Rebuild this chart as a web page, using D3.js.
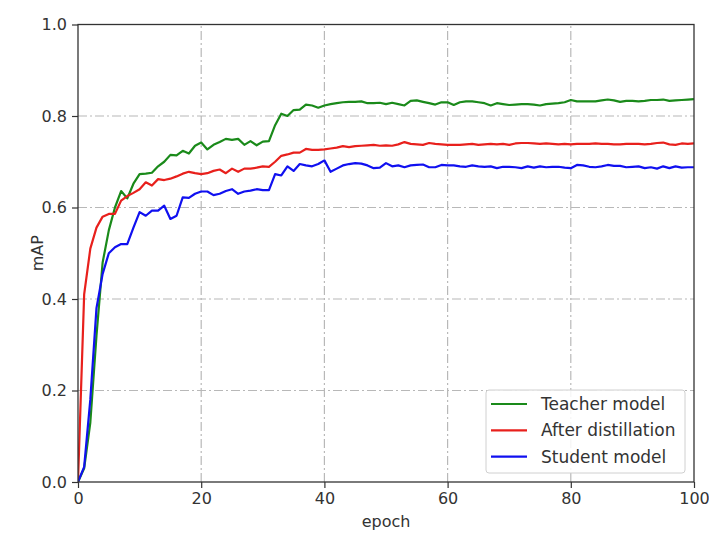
<!DOCTYPE html>
<html>
<head>
<meta charset="utf-8">
<script src="https://cdn.jsdelivr.net/npm/d3@7"></script>
<style>
  body { margin: 0; background: #fff; }
  svg { display: block; font-family: "DejaVu Sans", sans-serif; }
</style>
</head>
<body>
<svg id="chart"></svg>
<script>
// values, one per epoch (0..100)
const epochs = d3.range(0, 101);

const teacher = [
  0.0, 0.03, 0.13, 0.32, 0.48, 0.55, 0.60, 0.636, 0.62, 0.652,
  0.673, 0.674, 0.676, 0.69, 0.70, 0.715, 0.714, 0.724, 0.718, 0.735,
  0.742, 0.727, 0.737, 0.743, 0.75, 0.748, 0.75, 0.737, 0.745, 0.736,
  0.744, 0.745, 0.78, 0.805, 0.80, 0.813, 0.814, 0.825, 0.823, 0.818,
  0.823, 0.826, 0.828, 0.83, 0.831, 0.831, 0.832, 0.828, 0.828, 0.829,
  0.826, 0.829, 0.826, 0.823, 0.833, 0.834, 0.831, 0.828, 0.825, 0.83,
  0.83, 0.824, 0.83, 0.832, 0.832, 0.83, 0.828, 0.823, 0.828, 0.826,
  0.824, 0.825, 0.826, 0.826, 0.825, 0.823, 0.826, 0.827, 0.828, 0.83,
  0.835, 0.832, 0.832, 0.832, 0.832, 0.834, 0.836, 0.834, 0.831, 0.833,
  0.833, 0.832, 0.833, 0.835, 0.835, 0.836, 0.833, 0.834, 0.835, 0.836,
  0.837
];

const distilled = [
  0.0, 0.41, 0.51, 0.556, 0.58, 0.586, 0.586, 0.615, 0.625, 0.632,
  0.64, 0.655, 0.648, 0.662, 0.66, 0.663, 0.668, 0.674, 0.678, 0.675,
  0.673, 0.675, 0.68, 0.683, 0.675, 0.685, 0.678, 0.685, 0.685, 0.687,
  0.69, 0.689, 0.70, 0.713, 0.716, 0.72, 0.72, 0.728, 0.726, 0.726,
  0.727, 0.729, 0.731, 0.734, 0.732, 0.734, 0.735, 0.736, 0.737, 0.735,
  0.736, 0.735, 0.738, 0.743, 0.739, 0.738, 0.737, 0.741, 0.739, 0.738,
  0.737, 0.737, 0.737, 0.738, 0.739, 0.737, 0.738, 0.739, 0.738, 0.739,
  0.737, 0.74, 0.741, 0.741, 0.74, 0.739, 0.74, 0.739, 0.738, 0.739,
  0.738, 0.739, 0.739, 0.739, 0.74, 0.739, 0.739, 0.738, 0.738, 0.739,
  0.739, 0.739, 0.738, 0.739, 0.741, 0.742, 0.738, 0.737, 0.74, 0.739,
  0.74
];

const student = [
  0.0, 0.033, 0.18, 0.38, 0.455, 0.50, 0.513, 0.52, 0.52, 0.556,
  0.59, 0.582, 0.593, 0.593, 0.604, 0.575, 0.582, 0.622, 0.621, 0.63,
  0.635, 0.635, 0.627, 0.63, 0.636, 0.64, 0.63, 0.635, 0.637, 0.64,
  0.638, 0.638, 0.673, 0.67, 0.69, 0.68, 0.695, 0.692, 0.69, 0.695,
  0.703, 0.678, 0.685, 0.692, 0.695, 0.697, 0.696, 0.692, 0.686, 0.687,
  0.697, 0.69, 0.692, 0.688, 0.692, 0.693, 0.694, 0.688, 0.688, 0.693,
  0.692, 0.692, 0.69, 0.689, 0.692, 0.69, 0.689, 0.69, 0.686, 0.689,
  0.689, 0.688, 0.686, 0.69, 0.687, 0.69, 0.688, 0.689, 0.689, 0.687,
  0.686, 0.693, 0.692, 0.689, 0.688, 0.69, 0.693, 0.691, 0.691, 0.688,
  0.689, 0.69, 0.686, 0.688, 0.685, 0.69, 0.686, 0.69, 0.687, 0.688,
  0.688
];

const seriesNames = ["Teacher model", "After distillation", "Student model"];
const seriesColors = ["#1a8a1a", "#e8201c", "#1010f0"];
const xTicks = [0, 20, 40, 60, 80, 100];
const yTicks = [0.0, 0.2, 0.4, 0.6, 0.8, 1.0];

const width = 709, height = 533;
const margin = {top: 24.5, right: 15, bottom: 51, left: 78};

const svg = d3.select("#chart")
  .attr("width", width)
  .attr("height", height);

const x = d3.scaleLinear().domain([0, 100]).range([margin.left, width - margin.right]);
const y = d3.scaleLinear().domain([0, 1]).range([height - margin.bottom, margin.top]);

// grid
const grid = svg.append("g").attr("class", "grid")
  .attr("stroke", "#b8b8b8")
  .attr("stroke-width", 1.2)
  .attr("stroke-dasharray", "9,3,2,3");

grid.selectAll("line.gx")
  .data(xTicks.slice(1, -1))
  .join("line")
  .attr("class", "gx")
  .attr("x1", d => x(d)).attr("x2", d => x(d))
  .attr("y1", y(0)).attr("y2", y(1));

grid.selectAll("line.gy")
  .data(yTicks.slice(1, -1))
  .join("line")
  .attr("class", "gy")
  .attr("y1", d => y(d)).attr("y2", d => y(d))
  .attr("x1", x(0)).attr("x2", x(100));

// lines
const line = d3.line()
  .x((d, i) => x(epochs[i]))
  .y(d => y(d));

const allSeries = [teacher, distilled, student];

svg.append("clipPath").attr("id", "plotclip")
  .append("rect")
  .attr("x", x(0)).attr("y", y(1))
  .attr("width", x(100) - x(0)).attr("height", y(0) - y(1));

svg.append("g").attr("clip-path", "url(#plotclip)")
  .selectAll("path")
  .data(allSeries)
  .join("path")
  .attr("fill", "none")
  .attr("stroke", (d, i) => seriesColors[i])
  .attr("stroke-width", 2.2)
  .attr("stroke-linejoin", "round")
  .attr("d", line);

// axes
const xAxis = svg.append("g")
  .attr("transform", "translate(0," + y(0) + ")")
  .call(d3.axisBottom(x).tickValues(xTicks).tickSize(6).tickPadding(5).tickFormat(d3.format("d")));

const yAxis = svg.append("g")
  .attr("transform", "translate(" + x(0) + ",0)")
  .call(d3.axisLeft(y).tickValues(yTicks).tickSize(6).tickPadding(5).tickFormat(d3.format(".1f")));

[xAxis, yAxis].forEach(function(ax) {
  ax.select(".domain").remove();
  ax.selectAll(".tick line").attr("stroke", "#333").attr("stroke-width", 1.2);
  ax.selectAll(".tick text")
    .attr("fill", "#333")
    .style("font-size", "16px")
    .style("font-family", "DejaVu Sans, sans-serif");
});

// frame
svg.append("rect")
  .attr("x", x(0)).attr("y", y(1))
  .attr("width", x(100) - x(0)).attr("height", y(0) - y(1))
  .attr("fill", "none")
  .attr("stroke", "#333")
  .attr("stroke-width", 1.3);

// axis labels
svg.append("text")
  .attr("x", (x(0) + x(100)) / 2)
  .attr("y", 527)
  .attr("text-anchor", "middle")
  .attr("fill", "#333")
  .style("font-size", "16px")
  .text("epoch");

svg.append("text")
  .attr("transform", "translate(43," + y(0.5) + ") rotate(-90)")
  .attr("text-anchor", "middle")
  .attr("fill", "#333")
  .style("font-size", "16px")
  .text("mAP");

// legend
const legend = svg.append("g").attr("transform", "translate(486,390)");

legend.append("rect")
  .attr("width", 199).attr("height", 83)
  .attr("rx", 3)
  .attr("fill", "#fff")
  .attr("fill-opacity", 0.85)
  .attr("stroke", "#d0d0d0")
  .attr("stroke-width", 1);

const item = legend.selectAll("g.item")
  .data(seriesNames)
  .join("g")
  .attr("class", "item")
  .attr("transform", (d, i) => "translate(0," + (14 + i * 26.3) + ")");

item.append("line")
  .attr("x1", 5).attr("x2", 41)
  .attr("stroke", (d, i) => seriesColors[i])
  .attr("stroke-width", 2.2);

item.append("text")
  .attr("x", 55)
  .attr("dy", "0.35em")
  .attr("fill", "#333")
  .style("font-size", "17px")
  .text(d => d);
</script>
</body>
</html>
